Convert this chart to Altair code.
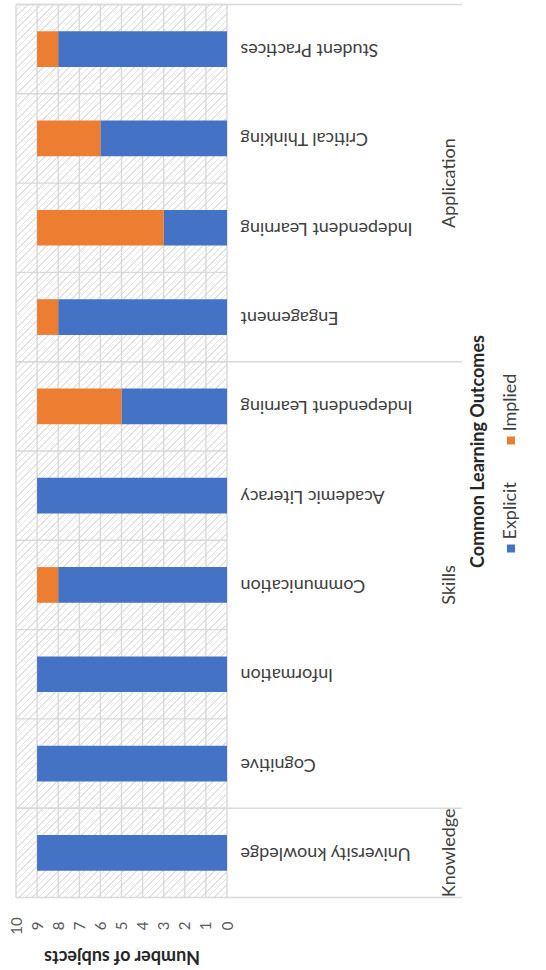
import altair as alt
import pandas as pd

# ---- data -------------------------------------------------------------
groups = ["Knowledge", "Skills", "Skills", "Skills", "Skills", "Skills",
          "Application", "Application", "Application", "Application"]
outcomes = ["University knowledge", "Cognitive", "Information", "Communication",
            "Academic Literacy", "Independent Learning", "Engagement",
            "Independent Learning", "Critical Thinking", "Student Practices"]
explicit = [9, 9, 9, 8, 9, 5, 8, 3, 6, 8]
implied = [0, 0, 0, 1, 0, 4, 1, 6, 3, 1]
series = ["Explicit", "Implied"]
colors = ["#4472C4", "#ED7D31"]
ticks = list(range(0, 11))

# ---- layout -----------------------------------------------------------
W, H = 211, 893
FONT = "Lato"
FS = 18

keys = [f"{g}|{o}" for g, o in zip(groups, outcomes)]
order_top_down = keys[::-1]

rows = []
for k, e, i in zip(keys, explicit, implied):
    rows.append({"key": k, "series": "Explicit", "value": e, "ord": 0})
    rows.append({"key": k, "series": "Implied", "value": i, "ord": 1})
bars_df = pd.DataFrame(rows)
bars_df = bars_df[bars_df["value"] > 0]

yscale = alt.Scale(domain=order_top_down, paddingInner=0, paddingOuter=0)
xscale = alt.Scale(domain=[0, 10], reverse=True, nice=False)
cscale = alt.Scale(domain=series, range=colors)

yaxis = alt.Axis(orient="right", labelAngle=180, labelAlign="right",
                 labelBaseline="middle", labelPadding=13,
                 domain=False, ticks=False, grid=False, title=None,
                 labelExpr="split(datum.label, '|')[1]",
                 labelFont=FONT, labelFontSize=FS,
                 labelColor="#404040", labelLimit=400)
xaxis = alt.Axis(values=ticks, labelAngle=270, labelAlign="center",
                 labelBaseline="middle", labelPadding=28,
                 domain=False, ticks=False, grid=False,
                 labelFont=FONT, labelFontSize=15,
                 labelColor="#595959",
                 title="Number of subjects", titleAngle=180,
                 titleFont=FONT, titleFontSize=FS,
                 titleFontWeight="bold", titleColor="#262626",
                 titleX=W / 2, titleY=57.5, titleAlign="center",
                 titleBaseline="middle")

# diagonal hatch for the plot background (stripes along x + y = const)
P = 6.5
L = W + H
s = L / (W * W + H * H)
stops = []
n = int(L / P) + 1
for k in range(n):
    a = k * P / L
    if a >= 1:
        break
    b = min((k * P + 4.8) / L, 1.0)
    c = min((k + 1) * P / L, 1.0)
    stops.append(alt.GradientStop(offset=a, color="#ffffff"))
    stops.append(alt.GradientStop(offset=b, color="#ffffff"))
    stops.append(alt.GradientStop(offset=b, color="#e2e2e2"))
    stops.append(alt.GradientStop(offset=c, color="#e2e2e2"))
hatch = alt.LinearGradient(gradient="linear", x1=0, y1=0,
                           x2=W * s, y2=H * s, stops=stops)

base_one = pd.DataFrame({"a": [0]})
background = alt.Chart(base_one).mark_rect(fill=hatch).encode(
    x=alt.value(0), x2=alt.value(W), y=alt.value(0), y2=alt.value(H)
)

grid_v = alt.Chart(pd.DataFrame({"value": ticks})).mark_rule(
    color="#d9d9d9", strokeWidth=1.4
).encode(x=alt.X("value:Q", scale=xscale, axis=xaxis))

cat_df = pd.DataFrame({"key": keys})
grid_h = alt.Chart(cat_df).mark_rule(color="#d9d9d9", strokeWidth=1.4).encode(
    y=alt.Y("key:N", scale=yscale, sort=None, bandPosition=0, axis=yaxis),
    x=alt.value(0), x2=alt.value(W)
)

# group separators reach out past the category labels:
# top edge of the top-most category in each group, plus the bottom edge
sep_top_df = pd.DataFrame({"key": [keys[len(groups) - 1 - groups[::-1].index(g)]
                                   for g in ["Knowledge", "Skills", "Application"]]})
sep_top = alt.Chart(sep_top_df).mark_rule(color="#d9d9d9", strokeWidth=1.4).encode(
    y=alt.Y("key:N", scale=yscale, sort=None, bandPosition=0, axis=yaxis),
    x=alt.value(0), x2=alt.value(446)
)
sep_bottom = alt.Chart(pd.DataFrame({"key": [keys[0]]})).mark_rule(
    color="#d9d9d9", strokeWidth=1.4
).encode(
    y=alt.Y("key:N", scale=yscale, sort=None, bandPosition=1, axis=yaxis),
    x=alt.value(0), x2=alt.value(446)
)

bars = alt.Chart(bars_df).mark_bar(height=alt.RelativeBandSize(0.4)).encode(
    y=alt.Y("key:N", scale=yscale, sort=None, axis=yaxis),
    x=alt.X("value:Q", stack="zero", scale=xscale, axis=xaxis),
    color=alt.Color("series:N", scale=cscale, legend=None),
    order=alt.Order("ord:Q"),
)

# group labels, centred on the span of each group
group_anchor = {
    "Knowledge": ("Knowledge|University knowledge", 0.5),
    "Skills": ("Skills|Communication", 0.5),
    "Application": ("Application|Independent Learning", 0.0),
}
group_layers = []
for g, (k, pos) in group_anchor.items():
    group_layers.append(
        alt.Chart(pd.DataFrame({"key": [k], "label": [g]})).mark_text(
            angle=270, align="center", baseline="middle", font=FONT,
            fontSize=FS, color="#404040"
        ).encode(
            y=alt.Y("key:N", scale=yscale, sort=None, bandPosition=pos, axis=yaxis),
            x=alt.value(434), text="label:N"
        )
    )

title_cat = alt.Chart(base_one).mark_text(
    angle=270, align="center", baseline="middle", font=FONT, fontSize=FS,
    fontWeight="bold", color="#262626"
).encode(x=alt.value(463), y=alt.value(447), text=alt.value("Common Learning Outcomes"))

legend_layers = []
legend_pos = {"Explicit": 544, "Implied": 436}
for name in series:
    ydot = legend_pos[name]
    d = pd.DataFrame({"series": [name]})
    legend_layers.append(
        alt.Chart(d).mark_square(size=64, opacity=1).encode(
            x=alt.value(495), y=alt.value(ydot),
            color=alt.Color("series:N", scale=cscale, legend=None)
        )
    )
    legend_layers.append(
        alt.Chart(d).mark_text(
            angle=270, align="left", baseline="middle", font=FONT,
            fontSize=FS, color="#404040"
        ).encode(x=alt.value(495), y=alt.value(ydot - 9), text="series:N")
    )

chart = alt.layer(
    background, grid_v, grid_h, sep_top, sep_bottom, bars,
    *group_layers, title_cat, *legend_layers
).properties(
    width=W, height=H,
    autosize=alt.AutoSizeParams(type="none"),
    padding={"left": 16, "top": 4.5, "right": 319, "bottom": 72.5},
).configure_view(stroke=None)

chart.save("out.html", embed_options={"renderer": "svg", "actions": False})
